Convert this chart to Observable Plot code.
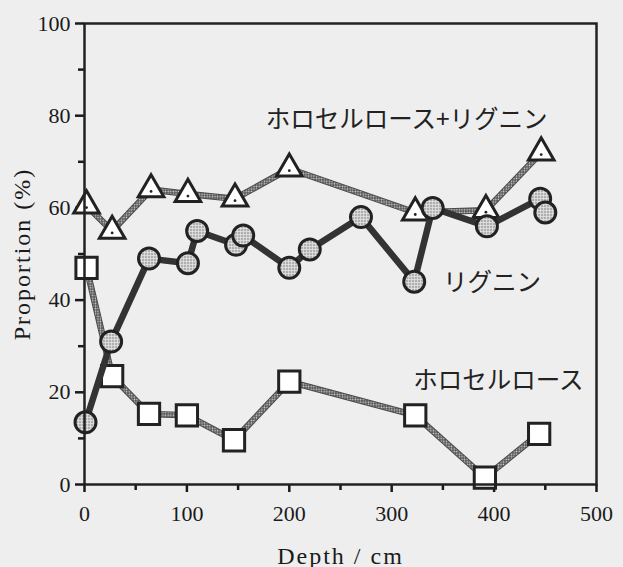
<!DOCTYPE html>
<html><head><meta charset="utf-8">
<script src="https://cdn.jsdelivr.net/npm/d3@7"></script>
<script src="https://cdn.jsdelivr.net/npm/@observablehq/plot@0.6"></script>
<style>
body{margin:0;background:#eeeeee}
g[aria-label="x-axis label"] text, g[aria-label="y-axis label"] text {letter-spacing: 2px; font-size: 24px;}
</style>
</head><body><div id="chart"></div>
<script>
// ホロセルロース+リグニン (triangles)
const totalDepth = [2, 27, 65, 101, 147, 200, 323, 392, 446];
const totalValue = [60.5, 55, 64, 63, 62, 68.5, 59, 59.5, 72];
// リグニン (circles)
const ligninDepth = [1, 26, 63, 101, 110, 148, 155, 200, 220, 270, 322, 340, 393, 445, 450];
const ligninValue = [13.5, 31, 49, 48, 55, 52, 54, 47, 51, 58, 44, 60, 56, 62, 59];
// ホロセルロース (squares)
const holoDepth = [2, 27, 63, 100, 146, 200, 323, 391, 444];
const holoValue = [47, 23.5, 15.3, 15, 9.6, 22.3, 15, 1.5, 11];

const xMajor = [0, 100, 200, 300, 400, 500];
const xMinor = [50, 150, 250, 350, 450];
const yMajor = [0, 20, 40, 60, 80, 100];
const yMinor = [10, 30, 50, 70, 90];

const seriesLabels = ["ホロセルロース+リグニン", "リグニン", "ホロセルロース"];
const labelDepth = [177, 350, 321];
const labelValue = [79, 43.7, 22.4];

const total = totalDepth.map((d, i) => ({depth: d, value: totalValue[i]}));
const lignin = ligninDepth.map((d, i) => ({depth: d, value: ligninValue[i]}));
const holo = holoDepth.map((d, i) => ({depth: d, value: holoValue[i]}));
const labels = seriesLabels.map((t, i) => ({text: t, depth: labelDepth[i], value: labelValue[i]}));

const stippleLine = (data) => [
  Plot.line(data, {x: "depth", y: "value", stroke: "#4a4a4a", strokeWidth: 6.5}),
  Plot.line(data, {x: "depth", y: "value", stroke: "url(#dots)", strokeWidth: 4.5})
];

const serif = "'Liberation Serif', 'Times New Roman', serif";

const chart = Plot.plot({
  width: 623,
  height: 567,
  marginLeft: 84,
  marginRight: 27,
  marginTop: 23,
  marginBottom: 83,
  x: {domain: [0, 500]},
  y: {domain: [0, 100]},
  style: {fontFamily: serif, fontSize: "22px", background: "#eeeeee", color: "#1a1a1a"},
  marks: [
    Plot.axisX(xMajor, {tickSize: 8, strokeWidth: 2.5, tickPadding: 13, fontSize: 22, fontFamily: serif, label: "Depth / cm", labelAnchor: "center", labelArrow: "none", labelOffset: 79}),
    Plot.axisX(xMinor, {tickSize: 6, strokeWidth: 2.5, text: null, label: null}),
    Plot.axisY(yMajor, {tickSize: 9, strokeWidth: 2.5, tickPadding: 5, fontSize: 22, fontFamily: serif, label: "Proportion (%)", labelAnchor: "center", labelArrow: "none", labelOffset: 72}),
    Plot.axisY(yMinor, {tickSize: 6, strokeWidth: 2.5, text: null, label: null}),
    ...stippleLine(holo),
    ...stippleLine(total),
    Plot.dot(holo, {x: "depth", y: "value", symbol: "square", r: 12, fill: "white", stroke: "#222", strokeWidth: 3}),
    Plot.dot(total, {x: "depth", y: "value", symbol: "triangle", r: 9.5, fill: "white", stroke: "#222", strokeWidth: 3}),
    Plot.dot(total, {x: "depth", y: "value", r: 1.4, fill: "#222", dy: 2}),
    Plot.line(lignin, {x: "depth", y: "value", stroke: "#333", strokeWidth: 6.5}),
    Plot.dot(lignin, {x: "depth", y: "value", r: 10.5, fill: "url(#stip)", stroke: "#222", strokeWidth: 3}),
    Plot.text(labels, {x: "depth", y: "value", text: "text", textAnchor: "start", lineAnchor: "middle", fontFamily: "'Noto Sans CJK JP', sans-serif", fontSize: 24.5, fill: "#222"}),
    Plot.frame({stroke: "#222", strokeWidth: 2.5})
  ]
});

chart.insertAdjacentHTML("afterbegin",
  `<defs>
   <pattern id="stip" width="3" height="3" patternUnits="userSpaceOnUse">
     <rect width="3" height="3" fill="#e2e2e2"></rect>
     <circle cx="1.5" cy="1.5" r="0.75" fill="#444"></circle>
   </pattern>
   <pattern id="dots" width="2.6" height="2.6" patternUnits="userSpaceOnUse">
     <rect width="2.6" height="2.6" fill="#555"></rect>
     <circle cx="1.3" cy="1.3" r="0.8" fill="#d8d8d8"></circle>
   </pattern>
   </defs>`);
document.getElementById("chart").appendChild(chart);
</script>
</body></html>
